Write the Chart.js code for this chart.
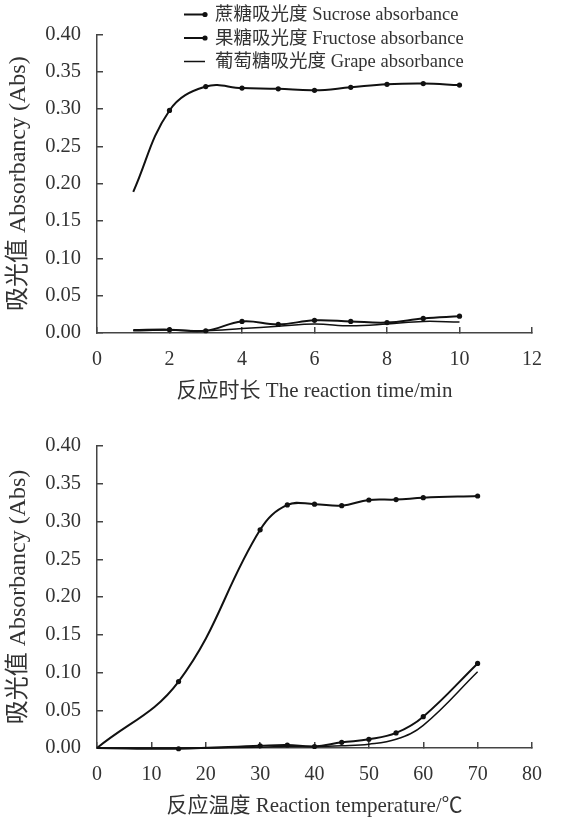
<!DOCTYPE html>
<html>
<head>
<meta charset="utf-8">
<script src="https://cdn.jsdelivr.net/npm/chart.js@4.4.1/dist/chart.umd.min.js"></script>
<style>
  html, body { margin: 0; padding: 0; background: #fff; }
  #wrap { position: relative; width: 563px; height: 820px; }
  .box { position: absolute; left: 0; width: 563px; height: 410px; }
  #c1box { top: 0; }
  #c2box { top: 410px; }
</style>
</head>
<body>
<div id="wrap">
  <div class="box" id="c1box"><canvas id="c1" width="563" height="410"></canvas></div>
  <div class="box" id="c2box"><canvas id="c2" width="563" height="410"></canvas></div>
</div>
<script>
// ---------- data ----------
const seriesLabels = ['蔗糖吸光度 Sucrose absorbance', '果糖吸光度 Fructose absorbance', '葡萄糖吸光度 Grape absorbance'];
const yTitle = '吸光值 Absorbancy (Abs)';

// Chart 1: reaction time (min)
const timeX = [1, 2, 3, 4, 5, 6, 7, 8, 9, 10];
const timeSucrose = [0.189, 0.298, 0.330, 0.328, 0.327, 0.325, 0.329, 0.333, 0.334, 0.332];
const timeFructose = [0.004, 0.0045, 0.003, 0.0155, 0.0115, 0.017, 0.0155, 0.014, 0.0195, 0.0225];
const timeGrape = [0.003, 0.004, 0.003, 0.006, 0.009, 0.012, 0.0097, 0.012, 0.0155, 0.0146];
const timeTitle = '反应时长 The reaction time/min';

// Chart 2: reaction temperature (°C)
const tempX = [0, 15, 30, 35, 40, 45, 50, 55, 60, 70];
const tempSucrose = [0, 0.088, 0.289, 0.322, 0.323, 0.321, 0.3285, 0.329, 0.3315, 0.3338];
const tempFructose = [0, -0.001, 0.003, 0.004, 0.002, 0.0075, 0.0115, 0.020, 0.0415, 0.112];
const tempGrape = [0, 0, 0.001, 0.002, 0.002, 0.003, 0.005, 0.0115, 0.030, 0.101];
const tempTitle = '反应温度 Reaction temperature/℃';

// ---------- styling ----------
const FONT = "'Liberation Serif', 'Noto Sans CJK SC', serif";
const TXT = '#333333';
const AX = '#444444';
const LINE = '#111111';

function pts(xs, ys) { return xs.map((x, i) => ({ x: x, y: ys[i] })); }
function radii(n, firstHidden) { return Array.from({ length: n }, (_, i) => (i === 0 && firstHidden) ? 0 : 2.6); }

function makeDatasets(xs, s, f, g) {
  return [
    { label: seriesLabels[0], data: pts(xs, s), borderColor: LINE, backgroundColor: LINE, borderWidth: 2,
      pointRadius: radii(xs.length, true), pointBackgroundColor: LINE, pointBorderWidth: 0, tension: 0.4, clip: false, _marker: true },
    { label: seriesLabels[1], data: pts(xs, f), borderColor: LINE, backgroundColor: LINE, borderWidth: 2,
      pointRadius: radii(xs.length, true), pointBackgroundColor: LINE, pointBorderWidth: 0, tension: 0.4, clip: false, _marker: true },
    { label: seriesLabels[2], data: pts(xs, g), borderColor: LINE, backgroundColor: LINE, borderWidth: 1.5,
      pointRadius: 0, tension: 0.4, clip: false, _marker: false }
  ];
}

const legendPlugin = {
  id: 'customLegend',
  afterDraw(chart, args, opts) {
    if (!opts || !opts.show) return;
    const ctx = chart.ctx;
    ctx.save();
    ctx.font = '18.5px ' + FONT;
    ctx.textBaseline = 'middle';
    ctx.textAlign = 'left';
    const rows = [14.5, 38, 61.5];
    chart.data.datasets.forEach((ds, i) => {
      const y = rows[i];
      ctx.strokeStyle = LINE;
      ctx.lineWidth = ds.borderWidth;
      ctx.beginPath();
      ctx.moveTo(184, y);
      ctx.lineTo(205, y);
      ctx.stroke();
      if (ds._marker) {
        ctx.fillStyle = LINE;
        ctx.beginPath();
        ctx.arc(205, y, 2.6, 0, Math.PI * 2);
        ctx.fill();
      }
      ctx.fillStyle = TXT;
      ctx.fillText(ds.label, 215, y + 1);
    });
    ctx.restore();
  }
};

function makeChart(id, xs, s, f, g, xMax, xStep, xTitleText, padTop, xHeight, xTitlePadBottom, showLegend) {
  return new Chart(document.getElementById(id), {
    type: 'line',
    data: { datasets: makeDatasets(xs, s, f, g) },
    plugins: [legendPlugin],
    options: {
      responsive: false,
      animation: false,
      layout: { padding: { top: padTop, right: 12, left: 0, bottom: 0 } },
      plugins: {
        legend: { display: false },
        tooltip: { enabled: false },
        customLegend: { show: showLegend }
      },
      scales: {
        x: {
          type: 'linear', min: 0, max: xMax,
          ticks: { stepSize: xStep, color: TXT, font: { family: FONT, size: 20 }, padding: 21, maxRotation: 0 },
          grid: { display: true, drawOnChartArea: false, drawTicks: true, tickLength: -6, color: AX, lineWidth: 1.5 },
          border: { display: true, color: AX, width: 1.5 },
          title: { display: true, text: xTitleText, color: TXT, font: { family: FONT, size: 21, lineHeight: 1.2 }, padding: { top: 0, bottom: xTitlePadBottom } },
          afterFit(scale) { scale.height = xHeight; }
        },
        y: {
          type: 'linear', min: 0, max: 0.4,
          ticks: { stepSize: 0.05, color: TXT, font: { family: FONT, size: 20.5 }, padding: 22,
                   callback: v => Number(v).toFixed(2) },
          grid: { display: true, drawOnChartArea: false, drawTicks: true, tickLength: -6, color: AX, lineWidth: 1.5 },
          border: { display: true, color: AX, width: 1.5 },
          title: { display: true, text: yTitle, color: TXT, font: { family: FONT, size: 24, lineHeight: 1.2 }, padding: { top: 4, bottom: 0 } },
          afterFit(scale) { scale.width = 97; }
        }
      }
    }
  });
}

makeChart('c1', timeX, timeSucrose, timeFructose, timeGrape, 12, 2, timeTitle, 31, 77, 5.5, true);
makeChart('c2', tempX, tempSucrose, tempFructose, tempGrape, 80, 10, tempTitle, 36, 72, 0.5, false);
</script>
</body>
</html>
